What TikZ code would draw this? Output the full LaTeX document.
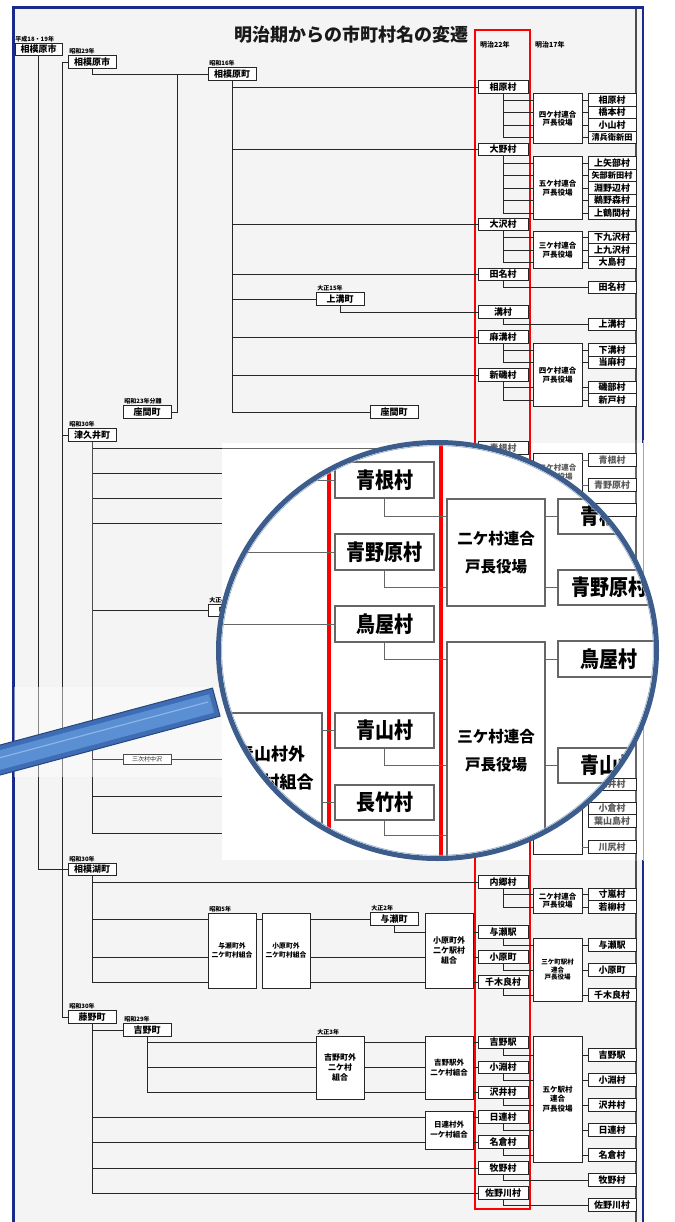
\documentclass[tikz,border=0pt]{standalone}
\usepackage{fontspec}
\newfontfamily\jp{Noto Sans CJK JP}
\definecolor{bgg}{HTML}{F4F4F4}
\definecolor{framec}{HTML}{1A2A8A}
\definecolor{ringc}{HTML}{3C5D8C}
\definecolor{ringl}{HTML}{9AB0CC}
\definecolor{hdark}{HTML}{27487A}
\definecolor{hmid}{HTML}{3F6DB5}
\definecolor{hin}{HTML}{5B8FD4}
\definecolor{hhi}{HTML}{8DB4E6}
\begin{document}
\begin{tikzpicture}[x=1pt,y=-1pt,
 bx/.style={draw=black!85, fill=white, line width=0.8pt, inner sep=0pt, align=center, font=\jp\bfseries\fontsize{9}{9}\selectfont, minimum height=12.5},
 m22/.style={bx, minimum width=50},
 m17/.style={bx, minimum width=48},
 lb/.style={bx, minimum width=48},
 tc/.style={bx, minimum width=49, font=\jp\bfseries\fontsize{7.5}{8.7}\selectfont},
 yr/.style={anchor=south west, inner sep=0.6pt, font=\jp\bfseries\fontsize{6}{6}\selectfont},
 ln/.style={draw=black!85, line width=0.8pt},
 mg/.style={draw=black!60, fill=white, line width=1.1pt, inner sep=0pt, align=center, font=\jp\bfseries\fontsize{19}{19}\selectfont},
 mgt/.style={mg, font=\jp\bfseries\fontsize{15.5}{28}\selectfont},
 mln/.style={draw=black!60, line width=1pt}]
\useasboundingbox (0,0) rectangle (674,1222);
% page
\fill[bgg] (13,7) rectangle (643,1222);
\draw[black!70, line width=1.2] (636,7) -- (636,1222);
\draw[framec, line width=2.2] (13.5,1222) -- (13.5,7.5) -- (643,7.5) -- (643,1222);
% title and headings
\node[font=\jp\bfseries\fontsize{18}{18}\selectfont, text=black!90] (title) at (351.5,35) {明治期からの市町村名の変遷};
\node[font=\jp\bfseries\fontsize{7}{7}\selectfont, anchor=west, inner sep=0] (h22) at (480,45) {明治22年};
\node[font=\jp\bfseries\fontsize{7}{7}\selectfont, anchor=west, inner sep=0] (h17) at (535,45) {明治17年};
\draw[red, line width=2] (475,30) rectangle (530,1209);
% left tree boxes
\node[lb, minimum width=47] (b1) at (38.5,49.5) {相模原市};
\node[yr] (l1) at (b1.north west) {平成18・19年};
\node[lb] (b2) at (92,62) {相模原市};
\node[yr] (l2) at ([xshift=1]b2.north west) {昭和29年};
\node[lb] (b3) at (232,74) {相模原町};
\node[yr] (l3) at ([xshift=1]b3.north west) {昭和16年};
\node[lb] (z1) at (147,412) {座間町};
\node[yr] (l4) at ([xshift=1]z1.north west) {昭和23年分離};
\node[lb] (km) at (340,299) {上溝町};
\node[yr] (l5) at ([xshift=1]km.north west) {大正15年};
\node[lb] (z2) at (394,412) {座間町};
% Meiji 22 column
\foreach \n/\y/\t in {a1/87/相原村, a2/149.5/大野村, a3/224.5/大沢村, a4/274.5/田名村, a5/312/溝村, a6/337/麻溝村, a7/375/新磯村,
  c1/882/内郷村, c2/932/与瀬駅, c3/957/小原町, c4/982/千木良村,
  d1/1042.5/吉野駅, d2/1067.5/小淵村, d3/1092.5/沢井村, d4/1117/日連村, d5/1142/名倉村, d6/1168/牧野村, d7/1193/佐野川村}
  \node[m22] (\n) at (503,\y) {\t};
% kochou yakuba
\node[tc, minimum height=50] (t1) at (557.5,118.75) {四ケ村連合\\戸長役場};
\node[tc, minimum height=62.5] (t2) at (557.5,188) {五ケ村連合\\戸長役場};
\node[tc, minimum height=37.5] (t3) at (557.5,250) {三ケ村連合\\戸長役場};
\node[tc, minimum height=62.5] (t4) at (557.5,375) {四ケ村連合\\戸長役場};
\node[tc, minimum height=25] (t5) at (557.5,900.75) {二ケ村連合\\戸長役場};
\node[tc, minimum height=62.5, font=\jp\bfseries\fontsize{6.5}{7.5}\selectfont] (t6) at (557.5,970) {三ケ町駅村\\連合\\戸長役場};
\node[tc, minimum height=126, font=\jp\bfseries\fontsize{7.5}{9.5}\selectfont] (t7) at (557.5,1099) {五ケ駅村\\連合\\戸長役場};
% Meiji 17 column
\foreach \n/\y/\t in {ra1/100/相原村, ra2/112.5/橋本村, ra3/125/小山村,
  rb1/163/上矢部村, rb3/188/淵野辺村, rb4/200.5/鵜野森村, rb5/213/上鶴間村,
  rc1/237.5/下九沢村, rc2/250/上九沢村, rc3/262.5/大島村, rd1/287.5/田名村, re1/324.5/上溝村,
  rf1/350/下溝村, rf2/362.5/当麻村, rf3/387.5/磯部村, rf4/400/新戸村,
  rg1/894.5/寸嵐村, rg2/907/若柳村, rh1/945/与瀬駅, rh2/970/小原町, rh3/995/千木良村,
  ri1/1055/吉野駅, ri2/1080/小淵村, ri3/1105/沢井村, ri4/1130/日連村, ri5/1155/名倉村, ri6/1180/牧野村, ri7/1205/佐野川村}
  \node[m17] (\n) at (612,\y) {\t};
\node[m17, font=\jp\bfseries\fontsize{8.2}{8.2}\selectfont] (ra4) at (612,137.5) {清兵衛新田};
\node[m17, font=\jp\bfseries\fontsize{8.2}{8.2}\selectfont] (rb2) at (612,175.5) {矢部新田村};
% Meiji 22 -> kochou / Meiji 17
\foreach \a/\t/\r in {a1/t1/ra1, a1/t1/ra2, a1/t1/ra3, a1/t1/ra4, a2/t2/rb1, a2/t2/rb2, a2/t2/rb3, a2/t2/rb4, a2/t2/rb5,
  a3/t3/rc1, a3/t3/rc2, a3/t3/rc3, a6/t4/rf1, a6/t4/rf2, a7/t4/rf3, a7/t4/rf4, c1/t5/rg1, c1/t5/rg2,
  c2/t6/rh1, c3/t6/rh2, c4/t6/rh3, d1/t7/ri1, d2/t7/ri2, d3/t7/ri3, d4/t7/ri4, d5/t7/ri5}
  {\draw[ln] (\a.south) |- (\t.west |- \r.west); \draw[ln] (\t.east |- \r.west) -- (\r.west);}
\foreach \a/\r in {a4/rd1, a5/re1, d6/ri6, d7/ri7} \draw[ln] (\a.south) |- (\r.west);
% left tree lines
\coordinate (j) at (62,62);
\coordinate (k) at (177,74);
\draw[ln] (b2.south) |- (b3.west);
\draw[ln] (k) |- (z1.east);
\foreach \r in {a1,a2,a3,a4,km,a6,a7,z2} \draw[ln] (b3.south) |- (\r.west);
\draw[ln] (km.south) |- (a5.west);
% Tsukui
\node[lb] (tk) at (92,435) {津久井町};
\node[yr] (l6) at ([xshift=1]tk.north west) {昭和30年};
\node[lb] (nk) at (232,610.5) {中野町};
\node[yr] (l7) at ([xshift=1]nk.north west) {大正4年};
\foreach \n/\y in {e0/448, e1/473, e2/498, e3/523, e5/759, e6/796, e7/833} \coordinate (\n) at (222,\y);
\foreach \r in {e0,e1,e2,e3,e6,e7} \draw[ln] (tk.south) |- (\r);
\draw[ln] (tk.south) |- (nk.west);
% Sagamiko
\node[lb] (sk) at (92,869.5) {相模湖町};
\node[yr] (l8) at ([xshift=1]sk.north west) {昭和30年};
\node[lb, minimum height=75, font=\jp\bfseries\fontsize{6.8}{9.3}\selectfont] (ya) at (232,950.5) {与瀬町外\\二ケ町村組合};
\node[yr] (l9) at ([xshift=1]ya.north west) {昭和5年};
\node[lb, minimum height=75, font=\jp\bfseries\fontsize{6.8}{9.3}\selectfont] (oa) at (286,950.5) {小原町外\\二ケ町村組合};
\node[lb] (y2t) at (394,919) {与瀬町};
\node[yr] (l10) at ([xshift=1]y2t.north west) {大正2年};
\node[lb, minimum height=75, font=\jp\bfseries\fontsize{8}{10}\selectfont] (ob) at (449,950.5) {小原町外\\二ケ駅村\\組合};
\draw[ln] (sk.south) |- (c1.west);
\draw[ln] (sk.south) |- (ya.west |- y2t.west);
\draw[ln] (sk.south) |- (ya.west |- c3.west);
\draw[ln] (sk.south) |- (ya.west |- c4.west);
\draw[ln] (ya.east |- y2t.west) -- (oa.west |- y2t.west);
\draw[ln] (oa.east |- y2t.west) -- (y2t.west);
\draw[ln] (oa.east |- c3.west) -- (ob.west |- c3.west);
\draw[ln] (oa.east |- c4.west) -- (ob.west |- c4.west);
\draw[ln] (y2t.south) |- (ob.west |- c2.west);
\foreach \r in {c2,c3,c4} \draw[ln] (ob.east |- \r.west) -- (\r.west);
% Fujino
\node[lb] (fj) at (92,1017) {藤野町};
\node[yr] (l11) at ([xshift=1]fj.north west) {昭和30年};
\node[lb] (yt) at (147,1030) {吉野町};
\node[yr] (l12) at ([xshift=1]yt.north west) {昭和29年};
\node[lb, minimum height=63, font=\jp\bfseries\fontsize{8}{10}\selectfont] (yA) at (340,1067.5) {吉野町外\\二ケ村\\組合};
\node[yr] (l13) at ([xshift=1]yA.north west) {大正3年};
\node[lb, minimum height=63, font=\jp\bfseries\fontsize{7.5}{10}\selectfont] (yB) at (449,1067.5) {吉野駅外\\二ケ村組合};
\node[lb, minimum height=38, font=\jp\bfseries\fontsize{7.5}{10}\selectfont] (hz) at (449,1130) {日連村外\\一ケ村組合};
\draw[ln] (fj.south) |- (yt.west);
\foreach \r in {d1,d2,d3} {\draw[ln] (yt.south) |- (yA.west |- \r.west); \draw[ln] (yA.east |- \r.west) -- (yB.west |- \r.west); \draw[ln] (yB.east |- \r.west) -- (\r.west);}
\foreach \r in {d4,d5} {\draw[ln] (fj.south) |- (hz.west |- \r.west); \draw[ln] (hz.east |- \r.west) -- (\r.west);}
\foreach \r in {d6,d7} \draw[ln] (fj.south) |- (\r.west);
% main verticals
\draw[ln] (b1.south) |- (sk.west);
\draw[ln] (b2.west) -- (j) |- (fj.west);
\draw[ln] (j) |- (tk.west);
% band behind handle
\fill[white, opacity=0.45] (14,687) rectangle (222,777);
\node[draw=black!70, fill=white, inner sep=0.5pt, minimum width=48, minimum height=10, font=\jp\fontsize{6}{6}\selectfont, text=black!85] (mb) at (147,759) {三次村中沢};
\draw[ln, black!70] (tk.south) |- (mb.west);
\draw[ln, black!70] (mb.east) -- (e5);
% pasted magnifier picture
\fill[white] (222,443) rectangle (646,860);
\begin{scope}[every node/.append style={draw=black!60, text=black!65}]
\clip (222,440) rectangle (646,860);
\draw[red, line width=2] (475,430) -- (475,870);
\draw[red, line width=2] (530,430) -- (530,870);
\draw[black!60, line width=1.2] (636,430) -- (636,870);
\draw[black!35, line width=1] (643,430) -- (643,870);
\node[m22] (s1) at (503,448) {青根村};
\node[tc, minimum height=37.5] (s2) at (557.5,472.5) {二ケ村連合\\戸長役場};
\node[m17] (s3) at (612,460) {青根村};
\node[m17] (s4) at (612,485) {青野原村};
\node[m17] (s5) at (612,510) {};
\node[tc, minimum height=75] (s10) at (557.5,817) {};
\node[m17] (s6) at (612,784.5) {三井村};
\node[m17] (s7) at (612,808.5) {小倉村};
\node[m17] (s8) at (612,821) {葉山島村};
\node[m17] (s9) at (612,847) {川尻村};
\draw[ln, black!60] (tk.south) |- (s1.west);
\foreach \r in {s3,s4} \draw[ln, black!60] (s2.east |- \r.west) -- (\r.west);
\foreach \r in {s6,s9} \draw[ln, black!60] (s10.east |- \r.west) -- (\r.west);
\end{scope}
% magnifier
\begin{scope}
\clip (437.5,650.5) ellipse [x radius=219, y radius=208];
\fill[white] (200,430) rectangle (670,870);
\draw[red, line width=4] (329,430) -- (329,870);
\draw[red, line width=4] (441,430) -- (441,870);
\node[mg, minimum width=99, minimum height=36] (g1) at (384.5,480) {\scalebox{1}[1.15]{青根村}};
\node[mg, minimum width=99, minimum height=36] (g2) at (384.5,552) {\scalebox{1}[1.15]{青野原村}};
\node[mg, minimum width=99, minimum height=36] (g3) at (384.5,624) {\scalebox{1}[1.15]{鳥屋村}};
\node[mg, minimum width=99, minimum height=35] (g4) at (384.5,730.5) {\scalebox{1}[1.15]{青山村}};
\node[mg, minimum width=99, minimum height=35] (g5) at (384.5,802.5) {\scalebox{1}[1.15]{長竹村}};
\node[mgt, minimum width=98, minimum height=107] (gT1) at (496,552.5) {二ケ村連合\\戸長役場};
\node[mgt, minimum width=98, minimum height=218] (gT2) at (496,751) {三ケ村連合\\戸長役場};
\node[mg, minimum width=102, minimum height=35] (gR1) at (609,516.5) {\scalebox{1}[1.15]{青根村}};
\node[mg, minimum width=102, minimum height=35] (gR2) at (609,587.5) {\scalebox{1}[1.15]{青野原村}};
\node[mg, minimum width=102, minimum height=36] (gR3) at (609,659) {\scalebox{1}[1.15]{鳥屋村}};
\node[mg, minimum width=102, minimum height=35] (gR4) at (609,765.5) {\scalebox{1}[1.15]{青山村}};
\node[mg, minimum width=102, minimum height=110, font=\jp\bfseries\fontsize{17}{28}\selectfont] (gL) at (271,768) {青山村外\\二ケ村組合};
\coordinate (gC) at (447,835);
\foreach \n/\y in {gl1/480, gl2/552, gl3/624} \coordinate (\n) at (200,\y);
\draw[mln] (gl1) -- (g1.west);
\draw[mln] (gl2) -- (g2.west);
\draw[mln] (gl3) -- (g3.west);
\draw[mln] (g1.south) |- (gT1.west |- gR1.west);
\draw[mln] (g2.south) |- (gT1.west |- gR2.west);
\draw[mln] (g3.south) |- (gT2.west |- gR3.west);
\draw[mln] (g4.south) |- (gT2.west |- gR4.west);
\draw[mln] (g5.south) |- (gC);
\draw[mln] (gT1.east |- gR1.west) -- (gR1.west);
\draw[mln] (gT1.east |- gR2.west) -- (gR2.west);
\draw[mln] (gT2.east |- gR3.west) -- (gR3.west);
\draw[mln] (gT2.east |- gR4.west) -- (gR4.west);
\draw[mln] (gL.east |- g4.west) -- (g4.west);
\draw[mln] (gL.east |- g5.west) -- (g5.west);
\end{scope}
\draw[ringc, line width=5] (437.5,650.5) ellipse [x radius=219, y radius=208];
\draw[ringl, line width=0.7] (437.5,650.5) ellipse [x radius=215.8, y radius=204.8];
% handle
\fill[hmid, draw=hdark, line width=1] (-19.3,750.2) -- (212.5,688.1) -- (220,716.1) -- (-11.8,778.2) -- cycle;
\fill[hin] (-18,755) -- (209,694.2) -- (213.9,712.6) -- (-13.1,773.3) -- cycle;
\draw[hhi, line width=1.2] (-16,762) -- (208,702);
\draw[hdark!70, line width=0.6] (209,694.2) -- (213.9,712.6);
\end{tikzpicture}
\end{document}
